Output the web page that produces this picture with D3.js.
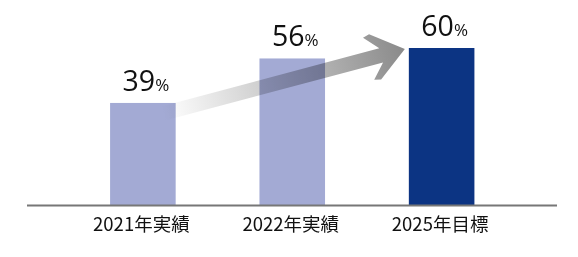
<!DOCTYPE html>
<html lang="ja">
<head>
<meta charset="UTF-8">
<title>目標</title>
<script src="https://d3js.org/d3.v7.min.js"></script>
<style>
  html, body {margin: 0; padding: 0; background: #fff;}
  svg {display: block;}
  .val {font-family: "Open Sans", "Noto Sans CJK JP", sans-serif; fill: #111;}
  .cat {font-family: "Noto Sans CJK JP", "Noto Sans", sans-serif; font-size: 18.5px; fill: #111;}
</style>
</head>
<body>
<div id="chart"></div>
<script>
const categories = ["2021年実績", "2022年実績", "2025年目標"];
const values = [39, 56, 60];
const barColors = ["#a3aad4", "#a3aad4", "#0c3483"];

const width = 578, height = 257;
const baseY = 205;

const svg = d3.select("#chart").append("svg")
  .attr("width", width)
  .attr("height", height);

const x = d3.scaleBand()
  .domain(categories)
  .range([35.4, 549.1])
  .paddingInner(0.561)
  .paddingOuter(0.5);

const y = d3.scaleLinear()
  .domain([0, 60])
  .range([baseY, 48]);

// bars
svg.selectAll(".bar")
  .data(values)
  .enter()
  .append("rect")
  .attr("class", "bar")
  .attr("x", (d, i) => x(categories[i]))
  .attr("y", d => y(d))
  .attr("width", x.bandwidth())
  .attr("height", d => baseY - y(d) + 1)
  .attr("fill", (d, i) => barColors[i]);

// arrow from 2021 to 2025
const sx = x(categories[0]) + x.bandwidth() * 0.81, sy = y(values[0]) + 10.6;
const tx = x(categories[2]) - 4, ty = y(values[2]) + 1;
const ang = Math.atan2(ty - sy, tx - sx) * 180 / Math.PI;
const len = Math.hypot(tx - sx, ty - sy);

const defs = svg.append("defs");
const grad = defs.append("linearGradient")
  .attr("id", "arrowGrad")
  .attr("gradientUnits", "userSpaceOnUse")
  .attr("x1", 0).attr("y1", 0).attr("x2", len).attr("y2", 0);
grad.append("stop").attr("offset", 0).attr("stop-color", "#ffffff");
grad.append("stop").attr("offset", 1).attr("stop-color", "#8a8a8a");

const hw = 7.3;
const pts = [
  [0, -hw], [len - 24.5, -hw], [len - 37.5, -21.7], [len - 30.8, -23.4],
  [len, 0],
  [len - 30.8, 23.4], [len - 37.5, 21.7], [len - 24.5, hw], [0, hw]
];
svg.append("path")
  .attr("transform", `translate(${sx},${sy}) rotate(${ang})`)
  .attr("d", "M" + pts.map(p => p.join(",")).join("L") + "Z")
  .attr("fill", "url(#arrowGrad)")
  .style("mix-blend-mode", "multiply");

// baseline
svg.append("line")
  .attr("x1", 27).attr("x2", 557)
  .attr("y1", baseY + 0.5).attr("y2", baseY + 0.5)
  .attr("stroke", "#777")
  .attr("stroke-width", 2);

// value labels
const lbl = svg.selectAll(".val")
  .data(values)
  .enter()
  .append("text")
  .attr("class", "val")
  .attr("x", (d, i) => x(categories[i]) + x.bandwidth() / 2 + 3)
  .attr("y", d => y(d) - 12.3)
  .attr("text-anchor", "middle");
lbl.append("tspan").attr("font-size", 28.5).text(d => d);
lbl.append("tspan").attr("font-size", 17).text("%");

// category labels
svg.selectAll(".cat")
  .data(categories)
  .enter()
  .append("text")
  .attr("class", "cat")
  .attr("x", d => x(d) + x.bandwidth() / 2 - 1.5)
  .attr("y", 230.7)
  .attr("text-anchor", "middle")
  .text(d => d);
</script>
</body>
</html>
